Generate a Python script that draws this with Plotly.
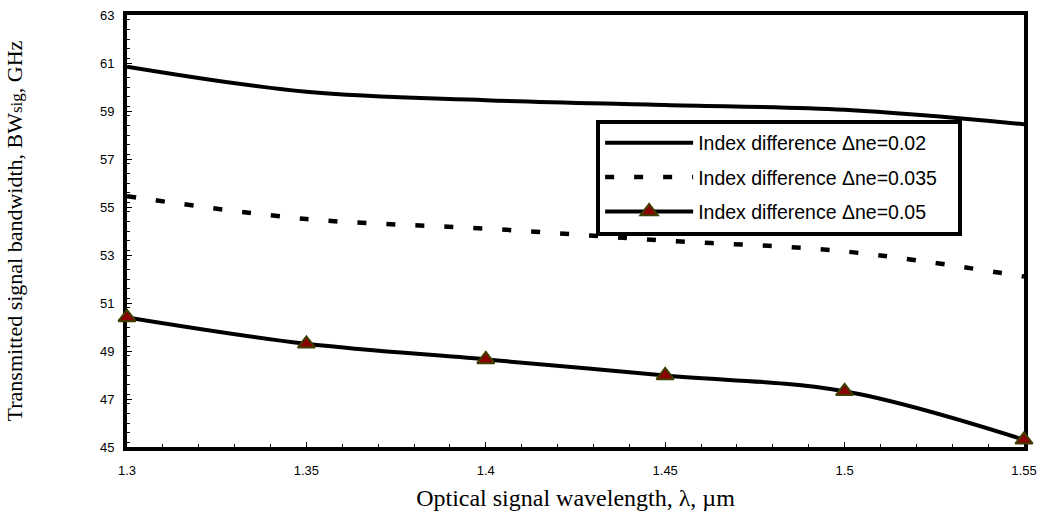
import plotly.graph_objects as go

# Optical signal wavelength (um)
wavelength = [1.3, 1.35, 1.4, 1.45, 1.5, 1.55]

# Transmitted signal bandwidth (GHz) for each refractive index difference
bw_ne_002 = [60.85, 59.8, 59.45, 59.25, 59.05, 58.45]
bw_ne_0035 = [55.45, 54.5, 54.1, 53.6, 53.15, 52.1]
bw_ne_005 = [50.4, 49.3, 48.65, 47.98, 47.32, 45.3]

x_tick_vals = [1.3, 1.35, 1.4, 1.45, 1.5, 1.55]
x_tick_text = ["1.3", "1.35", "1.4", "1.45", "1.5", "1.55"]
y_tick_vals = [45, 47, 49, 51, 53, 55, 57, 59, 61, 63]

legend_names = [
    "Index difference \u0394ne=0.02",
    "Index difference \u0394ne=0.035\u00a0\u00a0\u00a0",
    "Index difference \u0394ne=0.05",
]

fig = go.Figure()

fig.add_trace(go.Scatter(
    x=wavelength, y=bw_ne_002, name=legend_names[0], legendgroup="a",
    mode="lines", line=dict(color="black", width=4, shape="spline", smoothing=1),
    cliponaxis=False,
))
fig.add_trace(go.Scatter(
    x=wavelength, y=bw_ne_0035, name=legend_names[1], legendgroup="b",
    mode="lines", line=dict(color="black", width=4.5, dash="9px,20px",
                            shape="spline", smoothing=1),
    cliponaxis=False,
))
fig.add_trace(go.Scatter(
    x=wavelength, y=bw_ne_005, name=legend_names[2], legendgroup="c",
    mode="lines+markers", line=dict(color="black", width=4, shape="spline", smoothing=1),
    marker=dict(symbol="triangle-up", size=15, color="#8B0000",
                line=dict(color="#3F3F00", width=2)),
    cliponaxis=False,
))

axis_font = dict(family="Liberation Sans, Arial", size=13, color="black")
xtitle_font = dict(family="Liberation Serif, Times New Roman", size=24, color="black")
ytitle_font = dict(family="Liberation Serif, Times New Roman", size=22, color="black")

fig.update_layout(
    width=1039, height=523,
    margin=dict(l=127, r=15, t=15, b=76),
    paper_bgcolor="white", plot_bgcolor="white",
    showlegend=True,
    legend=dict(
        x=0.523, y=0.758, xanchor="left", yanchor="top",
        bgcolor="white", bordercolor="black", borderwidth=4,
        font=dict(family="Liberation Sans, Arial", size=19.5, color="black"),
        tracegroupgap=6, itemwidth=88,
    ),
    xaxis=dict(
        range=[1.3, 1.55], tickvals=x_tick_vals, ticktext=x_tick_text,
        ticks="inside", ticklen=5, tickwidth=1, tickcolor="black",
        minor=dict(dtick=0.01, ticks="inside", ticklen=3, tickcolor="black"),
        showline=True, linecolor="black", linewidth=4, mirror=True,
        showgrid=False, zeroline=False, tickfont=axis_font,
        ticklabelstandoff=8, layer="below traces", automargin=False,
        title=dict(text="Optical signal wavelength, \u03bb, \u00b5m", font=xtitle_font, standoff=14),
    ),
    yaxis=dict(
        range=[45, 63], tickvals=y_tick_vals,
        ticks="inside", ticklen=5, tickwidth=1, tickcolor="black",
        minor=dict(dtick=0.4, ticks="inside", ticklen=3, tickcolor="black"),
        showline=True, linecolor="black", linewidth=4, mirror=True,
        showgrid=False, zeroline=False, tickfont=axis_font,
        ticklabelstandoff=6, layer="below traces", automargin=False,
        title=dict(text="Transmitted signal bandwidth, BW<span style='font-size:17px'>sig</span>, GHz",
                   font=ytitle_font, standoff=72),
    ),
)

fig.write_html("out.html")
